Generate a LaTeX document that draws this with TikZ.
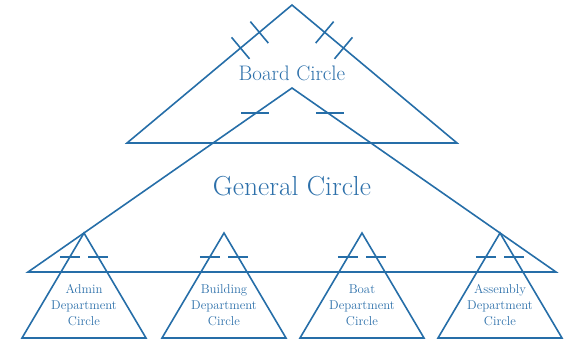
\documentclass[tikz,border=0pt]{standalone}
\usepackage{fontspec}
\usetikzlibrary{calc}
\definecolor{cblue}{RGB}{38,110,168}
\definecolor{tblue}{RGB}{45,112,170}
\begin{document}
\begin{tikzpicture}[x=1pt,y=-1pt,
  tri/.style={draw=cblue, line width=1.6pt, line join=miter},
  tick/.style={draw=cblue, line width=1.6pt},
  bigtext/.style={text=tblue, inner sep=0pt, font=\fontsize{27.5}{32}\selectfont},
  midtext/.style={text=tblue, inner sep=0pt, font=\fontsize{21}{25}\selectfont},
  depttext/.style={text=tblue, inner sep=0pt, align=center, font=\fontsize{12.8}{16}\selectfont}]
\useasboundingbox (0,0) rectangle (568,341);
% Board triangle
\coordinate (BA) at (292,5);
\coordinate (BL) at (127,143);
\coordinate (BR) at (457,143);
\draw[tri] (BL) -- (BA) -- (BR) -- cycle;
\foreach \t in {0.198,0.312}{
  \coordinate (p) at ($(BA)!\t!(BL)$);
  \draw[tick] ($(p)!14pt!90:(BA)$) -- ($(p)!14pt!-90:(BA)$);
  \coordinate (q) at ($(BA)!\t!(BR)$);
  \draw[tick] ($(q)!14pt!90:(BA)$) -- ($(q)!14pt!-90:(BA)$);
}
\node[midtext] (board) at (292,73) {Board Circle};
% General triangle
\coordinate (GA) at (292,88);
\coordinate (GL) at (28,272);
\coordinate (GR) at (556,272);
\draw[tri] (GL) -- (GA) -- (GR) -- cycle;
\coordinate (g1) at ($(GA)!0.136!(GL)$);
\coordinate (g2) at ($(GA)!0.136!(GR)$);
\draw[tick] ($(g1)+(-15,0)$) -- ($(g1)+(13,0)$);
\draw[tick] ($(g2)+(-12,0)$) -- ($(g2)+(16,0)$);
\node[bigtext] (general) at (292,186) {General Circle};
% Department triangles
\foreach \cx/\nm/\txt in {84/admin/{Admin\\Department\\Circle},
                          224/building/{Building\\Department\\Circle},
                          362/boat/{Boat\\Department\\Circle},
                          500/assembly/{Assembly\\Department\\Circle}}{
  \coordinate (\nm A) at (\cx,233);
  \coordinate (\nm L) at (\cx-62,338);
  \coordinate (\nm R) at (\cx+62,338);
  \draw[tri] (\nm L) -- (\nm A) -- (\nm R) -- cycle;
  \coordinate (\nm1) at ($(\nm A)!0.229!(\nm L)$);
  \coordinate (\nm2) at ($(\nm A)!0.229!(\nm R)$);
  \draw[tick] ($(\nm1)+(-10,0)$) -- ($(\nm1)+(10,0)$);
  \draw[tick] ($(\nm2)+(-10,0)$) -- ($(\nm2)+(10,0)$);
  \node[depttext] (\nm) at (\cx,305) {\txt};
}
\end{tikzpicture}
\end{document}
